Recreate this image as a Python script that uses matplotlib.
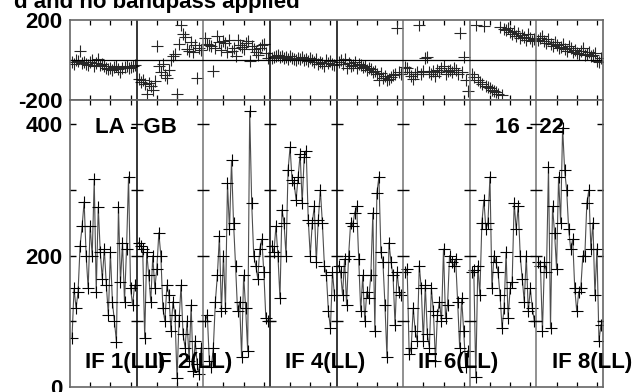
import numpy as np
import matplotlib
matplotlib.use("Agg")
from matplotlib import pyplot as plt

# 32 channels per IF, amplitude and phase for baseline LA - GB
nchan = 32
if_names = ['IF 1(LL)', 'IF 2(LL)', 'IF 3(LL)', 'IF 4(LL)',
            'IF 5(LL)', 'IF 6(LL)', 'IF 7(LL)', 'IF 8(LL)']
shown_labels = [0, 1, 3, 5, 7]

amp_if1 = [75, 150, 120, 145, 215, 245, 282, 200, 150, 245, 200, 316, 145, 274, 205, 165,
           210, 155, 110, 205, 130, 100, 69, 274, 160, 220, 130, 210, 320, 150, 125, 155]
amp_if2 = [220, 215, 210, 75, 205, 170, 130, 200, 150, 180, 235, 200, 120, 100, 155, 140,
           85, 130, 110, 13, 100, 155, 80, 60, 100, 40, 125, 25, 70, 35, 20, 60]
amp_if3 = [100, 110, 40, 30, 60, 130, 170, 230, 115, 200, 120, 310, 240, 345, 250, 185,
           115, 130, 46, 170, 120, 55, 420, 280, 200, 185, 165, 210, 225, 175, 105, 100]
amp_if4 = [215, 205, 245, 200, 135, 270, 250, 200, 330, 365, 315, 310, 285, 320, 355, 280,
           350, 360, 255, 200, 250, 275, 190, 255, 300, 250, 185, 170, 115, 90, 175, 140]
amp_if5 = [185, 175, 140, 195, 125, 200, 250, 245, 265, 275, 195, 115, 170, 100, 145, 135,
           170, 265, 85, 295, 320, 205, 190, 125, 45, 220, 190, 170, 95, 175, 145, 140]
amp_if6 = [175, 180, 50, 60, 120, 85, 70, 185, 150, 70, 155, 80, 60, 150, 115, 40,
           110, 130, 100, 210, 105, 125, 200, 190, 185, 195, 130, 60, 135, 85, 30, 55]
amp_if7 = [175, 178, 15, 185, 140, 250, 285, 240, 250, 320, 150, 200, 190, 175, 140, 90,
           120, 205, 105, 150, 160, 280, 240, 275, 200, 165, 130, 200, 115, 150, 120, 100]
amp_if8 = [190, 185, 85, 190, 175, 335, 90, 275, 235, 180, 320, 250, 395, 330, 300, 240,
           210, 225, 150, 115, 145, 150, 200, 200, 280, 300, 210, 250, 140, 210, 70, 95]

ph_if1 = [-10, -20, 0, -5, 45, -15, -10, -20, -25, -10, 0, -30, -15, 5, -25, -20,
          -30, -40, -45, -40, -50, -35, -30, -45, -60, -40, -35, -30, -40, -35, -30, -25]
ph_if2 = [-95, -110, -100, -120, -170, -115, -130, -150, -105, 70, -30, -60, -20, -75, -90, -50,
          0, 20, 30, -170, 80, 175, 130, 115, 55, 45, 90, 40, 75, -90, 60, 50]
ph_if3 = [110, 80, 75, 70, -55, 60, 120, 90, 50, 95, 85, 40, 100, 45, 60, 20,
          100, 75, 65, 55, 85, 95, -5, 70, 55, 40, 25, 60, 75, 80, 35, 10]
ph_if4 = [10, 15, 20, 25, 15, 20, 10, 15, 5, 20, 10, 5, 0, 10, 5, 15,
          0, 5, -5, 10, 0, -10, 5, -20, -10, -15, -30, 0, -15, -5, -20, -25]
ph_if5 = [-10, 0, -20, 5, -40, -15, -30, -25, -10, -40, -20, -25, -35, -30, -50, -40,
          -45, -60, -55, -70, -100, -65, -90, -80, -100, -95, -85, -75, -70, 160, -60, -70]
ph_if6 = [-35, -40, -60, -80, -95, -70, -60, 175, -70, -55, 10, 15, -60, -70, -55, -80,
          -50, -60, -40, -30, -70, -55, -50, -60, -40, -50, -70, 135, -60, 15, -100, -155]
ph_if7 = [-70, -85, 175, -100, -110, -120, 170, -130, -135, -140, -150, -155, -160, -170, 165, -175,
          155, 150, 160, 140, 130, 145, 120, 135, 110, 125, 115, 100, 130, 110, 95, 105]
ph_if8 = [100, 110, 120, 95, 85, 105, 80, 70, 90, 75, 60, 65, 80, 55, 45, 70,
          60, 40, 50, 35, 30, 45, 60, 25, 30, 40, 20, 25, 35, -5, -10, 10]

amps = [amp_if1, amp_if2, amp_if3, amp_if4, amp_if5, amp_if6, amp_if7, amp_if8]
phases = [ph_if1, ph_if2, ph_if3, ph_if4, ph_if5, ph_if6, ph_if7, ph_if8]

plt.rcParams['font.family'] = ['Liberation Sans', 'DejaVu Sans']
plt.rcParams['font.weight'] = 'bold'
plt.rcParams['axes.unicode_minus'] = False
fs = 16

W, H = 640, 392
fig = plt.figure(figsize=(W / 100, H / 100), dpi=100)
ax_ph = fig.add_axes([70 / W, 1 - 100 / H, 533 / W, 80 / H])
ax_amp = fig.add_axes([70 / W, 1 - 387 / H, 533 / W, 287 / H])

pw = 33  # width of one IF panel in channel units
nif = len(amps)
chan = np.arange(1, nchan + 1)
sep_colors = ['0.4', 'k', '0.45', 'k', 'k', '0.45', '0.45', '0.45', '0.4']

for k in range(nif):
    x = k * pw + chan
    ax_amp.plot(x, amps[k], color='0.3', lw=0.8, marker='+', ms=8.5,
                mec='k', mew=0.8)
    ax_ph.plot(x, phases[k], ls='none', marker='+', ms=8.5, mec='0.15', mew=0.8)

for ax in (ax_ph, ax_amp):
    ax.set_xlim(0, nif * pw)
    for k in range(1, nif):
        ax.axvline(k * pw, color=sep_colors[k], lw=1.1)
    ticks = [k * pw + t for k in range(nif) for t in (10, 20, 30)]
    ax.set_xticks(ticks)
    ax.tick_params(axis='x', direction='in', length=3.5, width=0.9,
                   top=True, bottom=True, labelbottom=False)
    ax.tick_params(axis='y', length=0, pad=5.5, labelsize=fs)
    for s in ax.spines.values():
        s.set_color('0.4')
        s.set_linewidth(1.2)

# phase panel
ax_ph.set_ylim(-200, 200)
ax_ph.set_yticks([-200, 200])
ax_ph.axhline(0, color='k', lw=0.9)

# amplitude panel
ax_amp.set_ylim(0, 437)
ax_amp.set_yticks([0, 200, 400])
bx = np.arange(nif + 1) * pw
for v in (100, 200, 300, 400):
    ax_amp.plot(bx, np.full(len(bx), v), ls='none', marker='_', ms=8, mew=1, color='k')

for lab in ax_ph.get_yticklabels() + ax_amp.get_yticklabels():
    lab.set_fontweight('bold')

ax_amp.text(12.4, 386, 'LA - GB', fontsize=fs, va='baseline')
ax_amp.text(210.5, 386, '16 - 22', fontsize=fs, va='baseline')
for k in shown_labels:
    ax_amp.text(k * pw + 7.6, 29, if_names[k], fontsize=fs, va='baseline')

fig.text(300 / W, 1 - 8 / H, 'd and no bandpass applied', fontsize=fs,
         ha='right', va='baseline')

fig.savefig('out.png', dpi=100)
